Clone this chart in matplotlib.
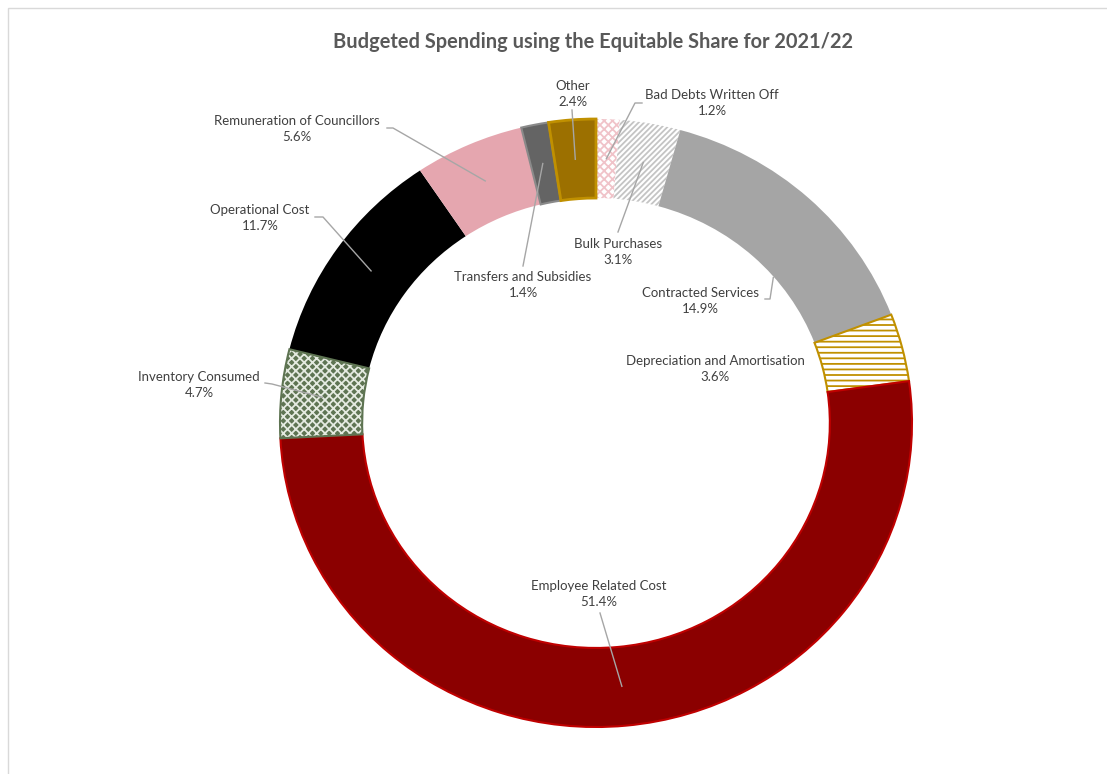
import numpy as np
import matplotlib.pyplot as plt
from matplotlib.patches import Wedge, Rectangle

plt.rcParams['font.family'] = ['Lato', 'DejaVu Sans']
plt.rcParams['hatch.linewidth'] = 1.3

## Data
categories = ['Bad Debts Written Off', 'Bulk Purchases', 'Contracted Services',
              'Depreciation and Amortisation', 'Employee Related Cost',
              'Inventory Consumed', 'Operational Cost',
              'Remuneration of Councillors', 'Transfers and Subsidies', 'Other']
shares = [1.2, 3.1, 14.9, 3.6, 51.4, 4.7, 11.7, 5.6, 1.4, 2.4]
title = 'Budgeted Spending using the Equitable Share for 2021/22'

## Segment styles
face = ['white', 'white', '#A5A5A5', 'white', '#8B0000',
        '#5E7452', 'black', '#E5A6AF', '#646464', '#9C7000']
edge = ['#F0C3C9', '#C4C4C4', '#A5A5A5', '#C09000', '#C00000',
        '#E4EAE0', 'black', '#E5A6AF', '#8A8A8A', '#C09000']
lw = [0, 0, 0, 1.5, 1.5, 0, 0, 0, 1.5, 2.0]
hatch = ['xxxx', '//////', None, '---', None, 'xxxx', None, None, None, None]

## Figure size and ring placement (pixels)
W, H = 1107, 774
CX, CY = 596, 423
RX, RY = 316, 304
RING = 0.26

def to_data(px, py):
    return (px - CX) / RX, (CY - py) / RY

# label centres (px) and leader line points on the text side (px)
label_pos = [(712, 103), (618, 252), (700, 301), (715, 369), (599, 594),
             (199, 385), (260, 218), (297, 129), (523, 285), (573, 94)]
leader = [[(642, 103), (635, 103)], [(618, 232)], [(765, 299), (770, 299)], None,
          [(600, 613)], [(265, 383), (272, 384)], [(315, 217), (323, 217)],
          [(387, 128), (393, 128)], [(523, 266)], [(572, 110)]]
reach = [1, 1, 0.3, 1, 1, 1, 1, 1, 1, 1]

fig = plt.figure(figsize=(W / 100, H / 100), dpi=100)
ax = fig.add_axes([0, 0, 1, 1])

wedges, _ = ax.pie(shares, radius=1, startangle=90, counterclock=False,
                   colors=face, wedgeprops=dict(width=RING))
for w, ec, l, h in zip(wedges, edge, lw, hatch):
    w.set_edgecolor(ec)
    w.set_linewidth(l)
    if h:
        w.set_hatch(h)

# green outline for the patterned inventory segment
inv = wedges[5]
ax.add_patch(Wedge((0, 0), 1, inv.theta1, inv.theta2, width=RING,
                   fill=False, edgecolor='#5E7452', lw=1.5))

ax.set_aspect('auto')
ax.set_xlim(-CX / RX, (W - CX) / RX)
ax.set_ylim(-(H - CY) / RY, CY / RY)
ax.axis('off')

## Labels and leader lines
for i, (name, val) in enumerate(zip(categories, shares)):
    lx, ly = to_data(*label_pos[i])
    ax.text(lx, ly, f'{name}\n{val:.1f}%', ha='center', va='center',
            fontsize=9.5, color='#404040', linespacing=1.35)
    if leader[i] is None:
        continue
    w = wedges[i]
    mid = np.radians((w.theta1 + w.theta2) / 2)
    tip = np.array([0.87 * np.cos(mid), 0.87 * np.sin(mid)])
    pts = [np.array(to_data(*p)) for p in leader[i]]
    tip = pts[-1] + reach[i] * (tip - pts[-1])
    pts.append(tip)
    pts = np.array(pts)
    ax.plot(pts[:, 0], pts[:, 1], color='#A6A6A6', lw=1)

fig.text(593 / W, 1 - 42 / H, title, ha='center', va='center',
         fontsize=14.4, fontweight='bold', color='#595959')

# chart area border
fig.patches.append(Rectangle((8 / W, -0.1), 1.2, 1 - 8 / H + 0.1, fill=False,
                             edgecolor='#D9D9D9', lw=1, transform=fig.transFigure))

fig.savefig('out.png', dpi=100)
